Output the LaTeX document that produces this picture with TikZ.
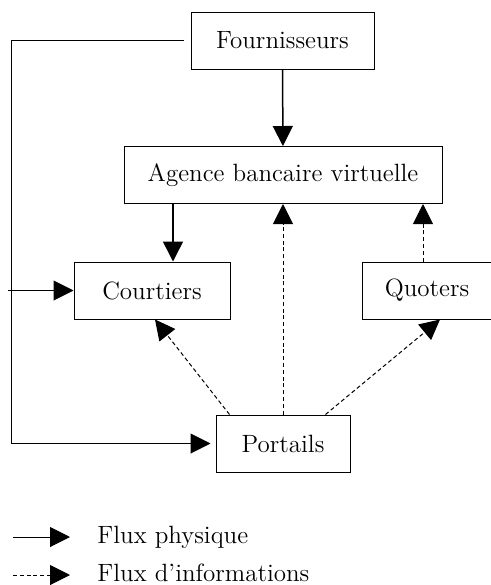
\documentclass[tikz,border=0pt]{standalone}
\usetikzlibrary{arrows.meta}
\tikzset{
  boite/.style={draw, line width=0.5pt, minimum height=28.5pt, inner sep=0pt,
    font=\fontsize{12.5}{15}\selectfont},
  legende/.style={inner sep=0pt, anchor=base west, font=\fontsize{12.5}{15}\selectfont},
  physique/.style={line width=0.5pt, -{Triangle[length=10pt,width=10pt]}},
  epais/.style={physique, line width=0.75pt},
  info/.style={physique, dash pattern=on 2pt off 1.4pt},
}
\begin{document}
\begin{tikzpicture}[x=0.5pt,y=-0.5pt]
  \useasboundingbox (0,0) rectangle (491,585);
  \draw
    (282.5,40.5) node[boite, minimum width=91.5pt] (fournisseurs){Fournisseurs}
    (283,175) node[boite, minimum width=159pt] (agence){Agence bancaire virtuelle}
    (152,290.5) node[boite, minimum width=78pt] (courtiers){Courtiers}
    (427,290.5) node[boite, minimum width=65pt] (quoters){Quoters}
    (283,443.5) node[boite, minimum width=67pt] (portails){Portails};
  \coordinate (coin) at (11,40.5);
  \coordinate (depart) at (8,290.5);
  \coordinate (ac) at ([xshift=10.5pt]courtiers.north);
  \coordinate (qa) at ([xshift=-2pt]quoters.north);
  \begin{scope}[physique]
    \draw[epais] (fournisseurs) to (agence);
    \draw[epais] (ac |- agence.south) to (ac);
    \draw[shorten >=2.5pt] ([xshift=-3.5pt]fournisseurs.west) -- (coin) |- (portails.west);
    \draw (depart) to (courtiers.west);
  \end{scope}
  \begin{scope}[info]
    \draw (portails) to (agence);
    \draw (qa) to (qa |- agence.south);
    \draw ([xshift=7pt]portails.north west) to ([xshift=1.5pt]courtiers.south);
    \draw ([xshift=-12.5pt]portails.north east) to ([xshift=6.5pt]quoters.south);
  \end{scope}
  \coordinate (p1) at (13,537);
  \coordinate (p2) at (70,537);
  \coordinate (i1) at (13,575);
  \coordinate (i2) at (70,575);
  \draw[physique] (p1) to (p2);
  \draw[info] (i1) to (i2);
  \node[legende] (lphysique) at (97,543) {Flux physique};
  \node[legende] (linfo) at (97,581.5) {Flux d’informations};
\end{tikzpicture}
\end{document}
